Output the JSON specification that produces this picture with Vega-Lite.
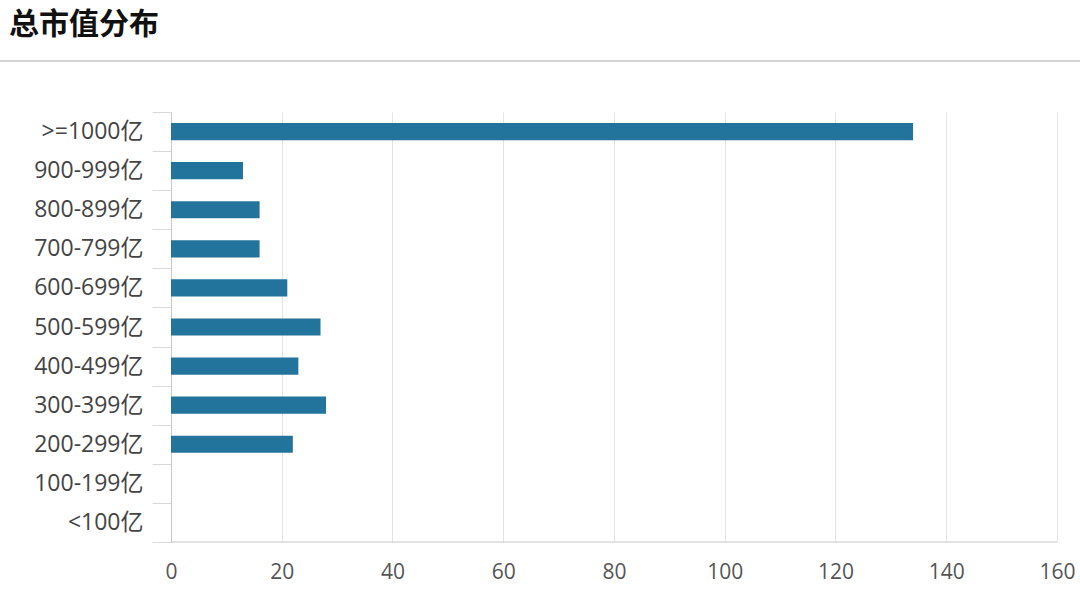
{
  "$schema": "https://vega.github.io/schema/vega-lite/v6.json",
  "background": "white",
  "padding": {"left": 0, "top": 10, "right": 0, "bottom": 12},
  "title": {
    "text": "总市值分布",
    "anchor": "start",
    "frame": "bounds",
    "font": "Noto Sans CJK SC",
    "fontSize": 30,
    "fontWeight": "bold",
    "color": "#111111",
    "offset": 20,
    "dx": 9
  },
  "spacing": 39,
  "bounds": "full",
  "config": {
    "font": "Noto Sans CJK SC"
  },
  "vconcat": [
    {
      "width": 1080,
      "height": 2,
      "data": {"values": []},
      "mark": "point",
      "encoding": {},
      "view": {"fill": "#d4d4d4", "stroke": null}
    },
    {
      "width": 1057,
      "height": 430,
      "view": {"stroke": null},
      "data": {
        "values": [
          {"range": ">=1000亿", "count": 134},
          {"range": "900-999亿", "count": 13},
          {"range": "800-899亿", "count": 16},
          {"range": "700-799亿", "count": 16},
          {"range": "600-699亿", "count": 21},
          {"range": "500-599亿", "count": 27},
          {"range": "400-499亿", "count": 23},
          {"range": "300-399亿", "count": 28},
          {"range": "200-299亿", "count": 22},
          {"range": "100-199亿", "count": 0},
          {"range": "<100亿", "count": 0}
        ]
      },
      "encoding": {
        "y": {
          "field": "range",
          "type": "nominal",
          "sort": null,
          "scale": {"paddingInner": 0, "paddingOuter": 0},
          "axis": {
            "title": null,
            "offset": -171,
            "tickBand": "extent",
            "tickSize": 19,
            "tickColor": "#d9d9d9",
            "domainColor": "#c8c8c8",
            "labelFont": "Open Sans, Noto Sans CJK SC",
            "labelFontSize": 23,
            "labelColor": "#444444",
            "labelPadding": 9,
            "grid": false
          }
        },
        "x": {
          "field": "count",
          "type": "quantitative",
          "scale": {"domain": [-30.88, 160], "nice": false, "zero": false},
          "axis": {
            "title": null,
            "values": [0, 20, 40, 60, 80, 100, 120, 140, 160],
            "ticks": false,
            "domain": false,
            "labelFlush": false,
            "labelFont": "Open Sans, Noto Sans CJK SC",
            "labelFontSize": 21,
            "labelColor": "#555555",
            "labelPadding": 19,
            "gridColor": "#e3e3e3",
            "grid": true
          }
        }
      },
      "layer": [
        {
          "mark": {"type": "bar", "color": "#22749c", "height": {"band": 0.44}}
        },
        {
          "data": {"values": [{"from": 0, "to": 160, "row": "<100亿"}]},
          "mark": {"type": "rule", "color": "#c8c8c8", "strokeWidth": 1},
          "encoding": {
            "x": {"field": "from", "type": "quantitative"},
            "x2": {"field": "to"},
            "y": {"field": "row", "type": "nominal", "sort": null, "bandPosition": 1}
          }
        }
      ]
    }
  ]
}
